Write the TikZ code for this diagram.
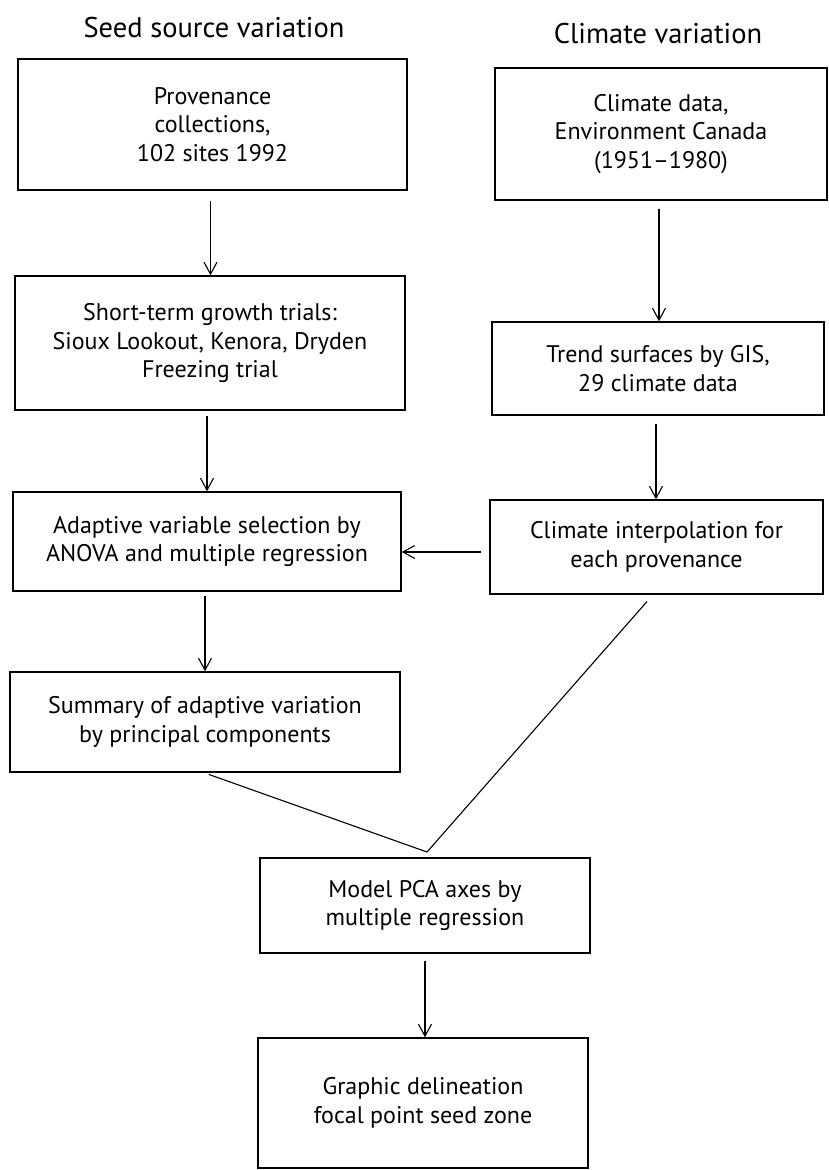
\documentclass[tikz,border=0pt]{standalone}
\usepackage{fontspec}
\setmainfont{PT Sans}
\usetikzlibrary{arrows.meta}
\tikzset{
  box/.style={draw, line width=1.4pt, inner sep=0pt, align=center,
    font=\fontsize{24}{28.5}\selectfont},
  ttl/.style={inner sep=0pt, font=\fontsize{28.5}{32}\selectfont},
  arr/.style={line width=1.1pt, -{Straight Barb[length=12pt,width=13pt,line width=1.1pt]}},
  ln/.style={line width=1.1pt}
}
\begin{document}
\begin{tikzpicture}[x=1pt,y=-1pt]
\useasboundingbox[fill=white] (0,0) rectangle (829,1170);
\node[ttl] (t1) at (214,28) {Seed source variation};
\node[ttl] (t2) at (658,34) {Climate variation};
\node[box, minimum width=389pt, minimum height=131pt] (b1) at (212.5,124.5) {Provenance\\collections,\\102 sites 1992};
\node[box, minimum width=332pt, minimum height=132pt] (b2) at (661,134) {Climate data,\\Environment Canada\\(1951–1980)};
\node[box, minimum width=390pt, minimum height=134pt] (b3) at (210,343) {Short-term growth trials:\\Sioux Lookout, Kenora, Dryden\\Freezing trial};
\node[box, minimum width=332pt, minimum height=93pt] (b4) at (658,368.5) {Trend surfaces by GIS,\\29 climate data};
\node[box, minimum width=388pt, minimum height=99pt] (b5) at (207,541.5) {Adaptive variable selection by\\ANOVA and multiple regression};
\node[box, minimum width=333pt, minimum height=94pt] (b6) at (656.5,547) {Climate interpolation for\\each provenance};
\node[box, minimum width=390pt, minimum height=100pt] (b7) at (205,722) {Summary of adaptive variation\\by principal components};
\node[box, minimum width=330pt, minimum height=95pt] (b8) at (425,905.5) {Model PCA axes by\\multiple regression};
\node[box, minimum width=330pt, minimum height=130pt] (b9) at (423,1103) {Graphic delineation\\focal point seed zone};
\coordinate (apex) at (427,852);
\draw[arr, shorten <=10pt] ([xshift=-2pt]b1.south) -- ([xshift=-2pt]b1.south |- b3.north);
\draw[arr, shorten <=8pt] ([xshift=-2pt]b2.south) -- ([xshift=-2pt]b2.south |- b4.north);
\draw[arr, shorten <=5pt] ([xshift=-3pt]b3.south) -- ([xshift=-3pt]b3.south |- b5.north);
\draw[arr, shorten <=8pt] ([xshift=-2pt]b4.south) -- ([xshift=-2pt]b4.south |- b6.north);
\draw[arr, shorten <=4pt] ([xshift=-2pt]b5.south) -- ([xshift=-2pt]b5.south |- b7.north);
\draw[arr, shorten <=8pt] ([yshift=-5pt]b6.west) -- ([yshift=-5pt]b6.west -| b5.east);
\draw[ln, shorten <=5pt] ([xshift=-1pt]b7.south) -- (apex);
\draw[ln, shorten <=9pt] ([xshift=-3.5pt]b6.south) -- (apex);
\draw[arr, shorten <=7pt] (b8.south) -- (b8.south |- b9.north);
\end{tikzpicture}
\end{document}
